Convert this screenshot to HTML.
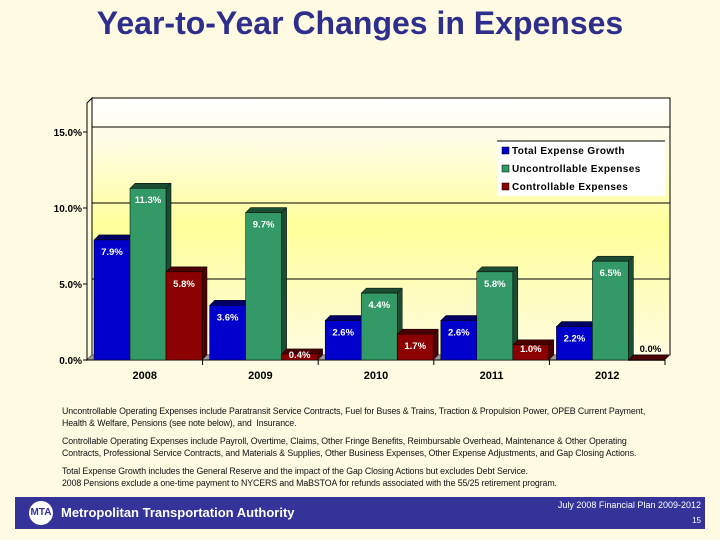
<!DOCTYPE html>
<html><head><meta charset="utf-8"><style>
body{margin:0;width:720px;height:540px;background:#fefbe2;font-family:"Liberation Sans",Arial,sans-serif;overflow:hidden;position:relative}
.t{position:absolute;left:0;width:720px;top:5px;text-align:center;font-weight:bold;font-size:32px;color:#2e2e8c}
.notes{position:absolute;left:62px;top:406px;font-size:8.8px;line-height:11.5px;color:#111;letter-spacing:-0.1px;white-space:nowrap}
.notes p{margin:0 0 7px 0}
.foot{position:absolute;left:15px;top:497px;width:690px;height:32px;background:#333399;color:#fff}
</style></head><body>
<div class="t">Year-to-Year Changes in Expenses</div>
<svg id="chart" width="720" height="400" style="position:absolute;left:0;top:0">
<defs><linearGradient id="bg" x1="0" y1="0" x2="0" y2="1">
<stop offset="0" stop-color="#ffffff"/><stop offset="0.15" stop-color="#fffde8"/><stop offset="0.5" stop-color="#ffff9a"/><stop offset="1" stop-color="#fffbe0"/></linearGradient></defs>
<g id="g"></g>
</svg>
<div class="notes">
<p>Uncontrollable Operating Expenses include Paratransit Service Contracts, Fuel for Buses &amp; Trains, Traction &amp; Propulsion Power, OPEB Current Payment,<br>Health &amp; Welfare, Pensions (see note below), and &nbsp;Insurance.</p>
<p>Controllable Operating Expenses include Payroll, Overtime, Claims, Other Fringe Benefits, Reimbursable Overhead, Maintenance &amp; Other Operating<br>Contracts, Professional Service Contracts, and Materials &amp; Supplies, Other Business Expenses, Other Expense Adjustments, and Gap Closing Actions.</p>
<p>Total Expense Growth includes the General Reserve and the impact of the Gap Closing Actions but excludes Debt Service.<br>2008 Pensions exclude a one-time payment to NYCERS and MaBSTOA for refunds associated with the 55/25 retirement program.</p>
</div>
<div class="foot">
<div style="position:absolute;left:14px;top:4px;width:24px;height:24px;border-radius:50%;background:#fff;color:#333399;font-weight:bold;font-size:10px;line-height:24px;text-align:center">MTA</div>
<div style="position:absolute;left:46px;top:8px;font-weight:bold;font-size:13px">Metropolitan Transportation Authority</div>
<div style="position:absolute;right:4px;top:3px;font-size:9px">July 2008 Financial Plan 2009-2012</div>
<div style="position:absolute;right:4px;top:19px;font-size:8px">15</div>
</div>
<script>
const categories=["2008","2009","2010","2011","2012"];
const seriesNames=["Total Expense Growth","Uncontrollable Expenses","Controllable Expenses"];
const totalGrowth=[7.9,3.6,2.6,2.6,2.2];
const uncontrollable=[11.3,9.7,4.4,5.8,6.5];
const controllable=[5.8,0.4,1.7,1.0,0.0];
const yTicks=[0,5,10,15];
const series=[totalGrowth,uncontrollable,controllable];
const colors=["#0000cc","#339966","#8b0000"];
const dark=["#000066","#1a4d33","#4a0000"];
const NS="http://www.w3.org/2000/svg";
const g=document.getElementById('g');
const x0=87,x1=665,y0=360,ppu=15.2,dx=5,dy=5,gw=(x1-x0)/categories.length,bw=36;
const yS=v=>y0-v*ppu;
function mk(t,a,p){const e=document.createElementNS(NS,t);for(const k in a)e.setAttribute(k,a[k]);(p||g).appendChild(e);return e;}
let e=mk('rect',{x:x0+dx,y:98,width:x1-x0,height:y0-dy-98,fill:'url(#bg)',stroke:'#000','stroke-width':1});

mk('polygon',{points:`${x0},${y0} ${x0+dx},${y0-dy} ${x0+dx},98 ${x0},103`,fill:'#fffbe0',stroke:'#000','stroke-width':1});
mk('polygon',{points:`${x0},${y0} ${x0+dx},${y0-dy} ${x1+dx},${y0-dy} ${x1},${y0}`,fill:'#999',stroke:'#777','stroke-width':0.5});
yTicks.forEach(v=>{
 if(v>0){e=mk('line',{x1:x0+dx,x2:x1+dx,y1:yS(v)-dy,y2:yS(v)-dy,stroke:'#000','stroke-width':1});}
 mk('line',{x1:x0-4,x2:x0,y1:yS(v),y2:yS(v),stroke:'#000'});
 e=mk('text',{x:x0-5,y:yS(v)+4,'text-anchor':'end','font-size':10,'font-weight':'bold',fill:'#000'});e.textContent=v.toFixed(1)+'%';
 
});
mk('line',{x1:x0,x2:x0,y1:103,y2:y0,stroke:'#000'});
mk('line',{x1:x0,x2:x1,y1:y0,y2:y0,stroke:'#000'});
categories.forEach((c,i)=>{
 const gx=x0+i*gw;
 mk('line',{x1:gx+gw,x2:gx+gw,y1:y0,y2:y0+5,stroke:'#000'});
 e=mk('text',{x:gx+gw/2,y:y0+19,'text-anchor':'middle','font-size':11,'font-weight':'bold'});e.textContent=c;
 
 series.forEach((s,j)=>{
  const v=s[i],bx=gx+7+j*bw,top=yS(v);
  mk('polygon',{points:`${bx+bw},${top} ${bx+bw+dx},${top-dy} ${bx+bw+dx},${y0-dy} ${bx+bw},${y0}`,fill:dark[j],stroke:'#000','stroke-width':0.5});
  mk('polygon',{points:`${bx},${top} ${bx+dx},${top-dy} ${bx+bw+dx},${top-dy} ${bx+bw},${top}`,fill:dark[j],stroke:'#000','stroke-width':0.5});
  e=mk('rect',{x:bx,y:top,width:bw,height:Math.max(v*ppu,0.5),fill:colors[j],stroke:'#000','stroke-width':0.5});
  
  let ly,fill='#fff',lx=bx+bw/2;
  if(v<0.2){ly=top-8;fill='#000';lx+=4;}
  else if(v<0.8){ly=top+4;}
  else ly=Math.min(top+15,y0-8);
  e=mk('text',{x:lx,y:ly,'text-anchor':'middle','font-size':9.5,'font-weight':'bold',fill:fill});
  e.textContent=v.toFixed(1)+'%';
  
 });
});
const lg=mk('g',{});

mk('rect',{x:497,y:141,width:168,height:55,fill:'#fff'},lg);
mk('line',{x1:497,x2:665,y1:141,y2:141,stroke:'#000'},lg);
seriesNames.forEach((n,j)=>{
 const y=151+j*18;
 mk('rect',{x:502,y:y-4,width:7,height:7,fill:colors[j],stroke:'#000','stroke-width':0.5},lg);
 const t=mk('text',{x:512,y:y+3,'font-size':10,'font-weight':'bold','letter-spacing':0.4},lg);t.textContent=n;
 
});
</script>
</body></html>
